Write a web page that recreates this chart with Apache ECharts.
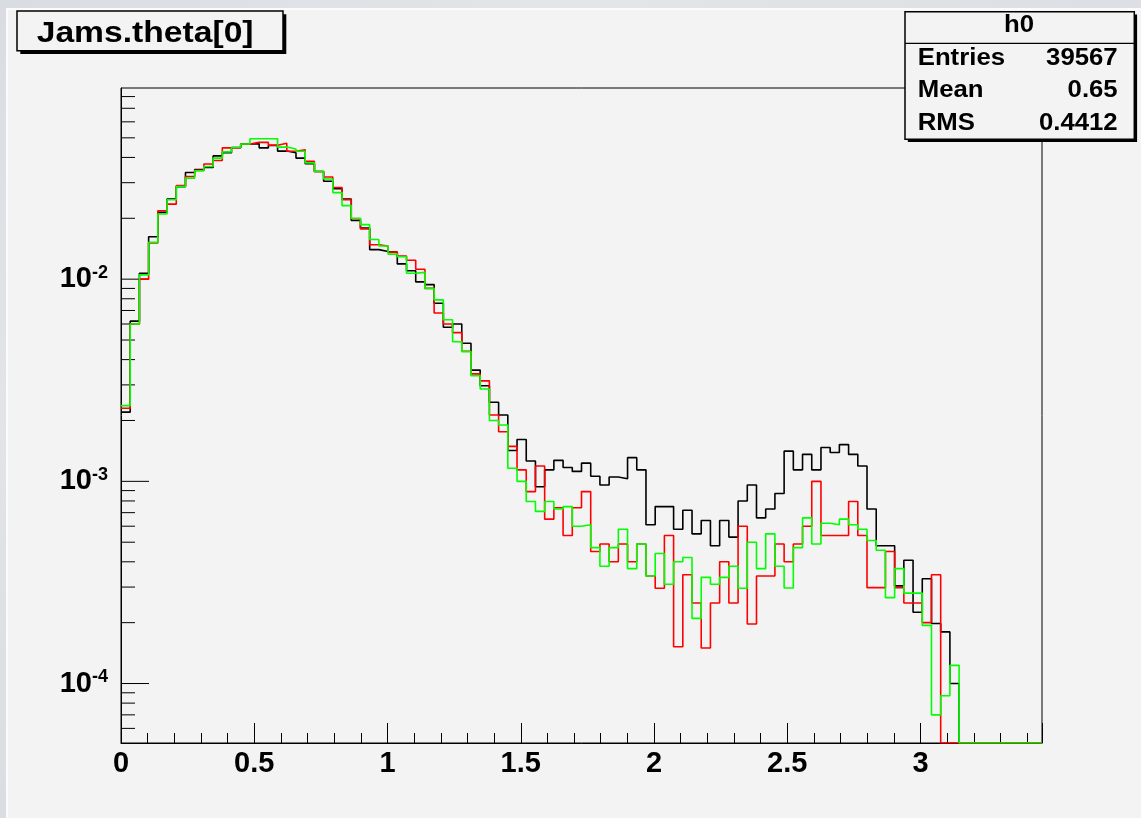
<!DOCTYPE html>
<html>
<head>
<meta charset="utf-8">
<title>Jams.theta[0]</title>
<script src="https://cdn.jsdelivr.net/npm/echarts@6/dist/echarts.min.js"></script>
<style>
  html, body { margin: 0; padding: 0; background: #f3f3f3; }
  #chart { width: 1141px; height: 818px; }
</style>
</head>
<body>
<div id="chart"></div>
<script>
// ---- Histogram description -------------------------------------------------
const TITLE = 'Jams.theta[0]';
const HIST_NAME = 'h0';
const STAT_LABELS = ['Entries', 'Mean', 'RMS'];
const STAT_VALUES = ['39567', '0.65', '0.4412'];

const N_BINS = 100;
const X_MIN = 0;
const X_MAX = 1.1 * Math.PI;
const Y_MIN = 5.08e-5;
const Y_MAX = 0.0882;

const X_TICK_LABELS = ['0', '0.5', '1', '1.5', '2', '2.5', '3'];
const Y_DECADES = [-4, -3, -2];

// Normalised bin contents (100 bins over [0, 1.1*pi]); 0 = empty bin.
const blackHist = [
  2.2e-3, 6.2e-3, 1.07e-2, 1.62e-2, 2.14e-2, 2.49e-2, 2.87e-2, 3.37e-2, 3.48e-2, 3.57e-2,
  4.07e-2, 4.22e-2, 4.48e-2, 4.66e-2, 4.68e-2, 4.46e-2, 4.58e-2, 4.30e-2, 4.22e-2, 3.97e-2,
  3.72e-2, 3.41e-2, 3.05e-2, 2.80e-2, 2.49e-2, 1.95e-2, 1.79e-2, 1.40e-2, 1.37e-2, 1.36e-2,
  1.19e-2, 1.10e-2, 9.7e-3, 9.4e-3, 7.6e-3, 5.78e-3, 6.0e-3, 4.82e-3, 3.55e-3, 2.97e-3,
  2.46e-3, 2.13e-3, 1.42e-3, 1.61e-3, 1.26e-3, 9.4e-4, 1.14e-3, 1.27e-3, 1.17e-3, 1.12e-3,
  1.23e-3, 1.06e-3, 9.6e-4, 1.05e-3, 1.03e-3, 1.31e-3, 1.14e-3, 6.1e-4, 7.5e-4, 7.5e-4,
  5.8e-4, 7.2e-4, 5.5e-4, 6.4e-4, 4.8e-4, 6.4e-4, 5.3e-4, 8.0e-4, 9.6e-4, 6.6e-4,
  7.3e-4, 8.7e-4, 1.41e-3, 1.14e-3, 1.36e-3, 1.14e-3, 1.47e-3, 1.39e-3, 1.52e-3, 1.36e-3,
  1.19e-3, 7.3e-4, 4.8e-4, 4.8e-4, 3.04e-4, 4.07e-4, 2.25e-4, 3.3e-4, 1.98e-4, 1.8e-4,
  1.0e-4, 0, 0, 0, 0, 0, 0, 0, 0, 0
];

const redHist = [
  2.3e-3, 6.0e-3, 1.0e-2, 1.51e-2, 2.18e-2, 2.35e-2, 2.90e-2, 3.22e-2, 3.45e-2, 3.71e-2,
  3.86e-2, 4.46e-2, 4.46e-2, 4.66e-2, 4.75e-2, 4.75e-2, 4.6e-2, 4.7e-2, 4.29e-2, 4.37e-2,
  3.83e-2, 3.41e-2, 3.20e-2, 2.84e-2, 2.47e-2, 1.99e-2, 1.77e-2, 1.48e-2, 1.46e-2, 1.36e-2,
  1.30e-2, 1.24e-2, 1.12e-2, 9.0e-3, 6.8e-3, 6.0e-3, 5.44e-3, 4.4e-3, 3.4e-3, 3.14e-3,
  2.13e-3, 1.76e-3, 1.49e-3, 1.14e-3, 8.9e-4, 1.19e-3, 6.5e-4, 7.4e-4, 5.4e-4, 7.4e-4,
  8.9e-4, 4.5e-4, 4.9e-4, 4.0e-4, 4.9e-4, 4.0e-4, 4.9e-4, 3.4e-4, 2.96e-4, 5.4e-4,
  1.52e-4, 3.45e-4, 2.5e-4, 1.5e-4, 2.5e-4, 4.0e-4, 2.5e-4, 6.0e-4, 1.97e-4, 3.4e-4,
  3.4e-4, 4.9e-4, 4.0e-4, 4.9e-4, 6.0e-4, 1.0e-3, 5.4e-4, 5.4e-4, 5.4e-4, 7.95e-4,
  5.4e-4, 2.98e-4, 2.98e-4, 4.5e-4, 2.98e-4, 2.5e-4, 2.5e-4, 2.0e-4, 3.45e-4, 0,
  0, 0, 0, 0, 0, 0, 0, 0, 0, 0
];

const greenHist = [
  2.37e-3, 6.0e-3, 1.05e-2, 1.52e-2, 2.10e-2, 2.47e-2, 2.87e-2, 3.16e-2, 3.44e-2, 3.61e-2,
  3.97e-2, 4.26e-2, 4.48e-2, 4.66e-2, 4.95e-2, 4.95e-2, 4.95e-2, 4.5e-2, 4.4e-2, 4.29e-2,
  3.76e-2, 3.41e-2, 3.13e-2, 2.68e-2, 2.31e-2, 2.00e-2, 1.86e-2, 1.57e-2, 1.46e-2, 1.33e-2,
  1.29e-2, 1.07e-2, 1.08e-2, 9.0e-3, 7.9e-3, 6.3e-3, 4.9e-3, 4.38e-3, 3.33e-3, 2.86e-3,
  2.0e-3, 1.9e-3, 1.16e-3, 1.0e-3, 7.95e-4, 7.1e-4, 7.95e-4, 7.3e-4, 7.5e-4, 6.0e-4,
  6.1e-4, 4.7e-4, 3.8e-4, 4.7e-4, 5.8e-4, 3.7e-4, 4.9e-4, 3.4e-4, 4.4e-4, 3.1e-4,
  4.0e-4, 4.2e-4, 2.1e-4, 3.35e-4, 3.1e-4, 3.35e-4, 3.8e-4, 2.96e-4, 5.0e-4, 3.7e-4,
  5.5e-4, 3.8e-4, 2.97e-4, 4.7e-4, 6.6e-4, 4.9e-4, 6.2e-4, 6.1e-4, 6.5e-4, 6.1e-4,
  5.8e-4, 5.1e-4, 4.56e-4, 2.66e-4, 3.7e-4, 2.8e-4, 2.8e-4, 1.94e-4, 7.0e-5, 8.7e-5,
  1.23e-4, 0, 0, 0, 0, 0, 0, 0, 0, 0
];

// ---- Helpers ----------------------------------------------------------------
const FONT = '"Liberation Sans", Arial, Helvetica, sans-serif';
const BG = '#f3f3f3';
const binWidth = (X_MAX - X_MIN) / N_BINS;

// One point per bin low edge plus the closing edge; empty bins sit on the
// bottom of the log frame, the way the histogram painter shows them.
function stepData(values) {
  const pts = values.map((v, i) => [X_MIN + i * binWidth, v > 0 ? v : Y_MIN]);
  pts.push([X_MAX, pts[pts.length - 1][1]]);
  return pts;
}

function histSeries(name, values, color) {
  return {
    name: name,
    type: 'line',
    step: 'end',
    data: stepData(values),
    symbol: 'none',
    silent: true,
    xAxisIndex: 0,
    yAxisIndex: 0,
    lineStyle: { color: color, width: 1.6 },
    z: 5
  };
}

// Log-axis tick marks: 1..9 x 10^k inside the y range (major at 10^k).
const yTickMarks = [];
for (let e = -5; e <= -1; e++) {
  for (let m = 1; m <= 9; m++) {
    const v = m * Math.pow(10, e);
    if (v > Y_MIN && v < Y_MAX) yTickMarks.push([X_MIN, v, m === 1 ? 1 : 0]);
  }
}

function xLabel(v) {
  const s = X_TICK_LABELS.find(t => Math.abs(parseFloat(t) - v) < 1e-6);
  return s === undefined ? '' : s;
}

function yLabel(v) {
  const e = Math.log10(v);
  const d = Y_DECADES.find(k => Math.abs(k - e) < 1e-6);
  return d === undefined ? '' : '{b|10}{s|' + d + '}';
}

// ---- Chart ------------------------------------------------------------------
const chart = echarts.init(document.getElementById('chart'), null, { renderer: 'canvas' });

const statRows = [];
STAT_LABELS.forEach((lab, i) => {
  const cy = 58.3 + i * 32.6;
  statRows.push({
    type: 'text', x: 917.7, y: cy, scaleX: 1.12, z: 102,
    style: { text: lab, font: 'bold 23px ' + FONT, fill: '#000', align: 'left', verticalAlign: 'middle' }
  });
  statRows.push({
    type: 'text', x: 1117.7, y: cy, scaleX: 1.12, z: 102,
    style: { text: STAT_VALUES[i], font: 'bold 23px ' + FONT, fill: '#000', align: 'right', verticalAlign: 'middle' }
  });
});

const option = {
  backgroundColor: BG,
  animation: false,
  grid: {
    left: 121, top: 88, width: 921, height: 655,
    show: true, borderColor: '#000', borderWidth: 1, backgroundColor: 'transparent'
  },
  xAxis: [
    {
      type: 'value', min: X_MIN, max: X_MAX, interval: 0.5, position: 'bottom',
      axisLine: { show: true, onZero: false, lineStyle: { color: '#000', width: 1 } },
      axisTick: { show: true, inside: true, length: 20, lineStyle: { color: '#000', width: 1 } },
      axisLabel: {
        show: true, margin: 6, color: '#000', fontSize: 29, fontWeight: 'bold', fontFamily: FONT,
        formatter: xLabel, showMinLabel: true, showMaxLabel: true
      },
      splitLine: { show: false }
    },
    {
      type: 'value', min: X_MIN, max: X_MAX, interval: 0.1, position: 'bottom',
      axisLine: { show: false },
      axisTick: { show: true, inside: true, length: 10, lineStyle: { color: '#000', width: 1 } },
      axisLabel: { show: false },
      splitLine: { show: false }
    }
  ],
  yAxis: {
    type: 'log', logBase: 10, min: Y_MIN, max: Y_MAX,
    axisLine: { show: true, onZero: false, lineStyle: { color: '#000', width: 1 } },
    axisTick: { show: false },
    splitLine: { show: false },
    axisLabel: {
      margin: 13, color: '#000', formatter: yLabel,
      rich: {
        b: { fontSize: 29, fontWeight: 'bold', fontFamily: FONT, color: '#000', lineHeight: 30 },
        s: { fontSize: 18, fontWeight: 'bold', fontFamily: FONT, color: '#000', lineHeight: 18, verticalAlign: 'top' }
      }
    }
  },
  series: [
    {
      type: 'custom',
      coordinateSystem: 'cartesian2d',
      xAxisIndex: 0, yAxisIndex: 0,
      silent: true,
      data: yTickMarks,
      renderItem: function (params, api) {
        const p = api.coord([api.value(0), api.value(1)]);
        const len = api.value(2) ? 28 : 14;
        return {
          type: 'line',
          shape: { x1: p[0], y1: p[1], x2: p[0] + len, y2: p[1] },
          style: { stroke: '#000', lineWidth: 1 }
        };
      },
      z: 3
    },
    histSeries('black', blackHist, '#000000'),
    histSeries('red', redHist, '#ff0000'),
    histSeries('green', greenHist, '#00ff00')
  ],
  graphic: [
    // soft frame strips along the top and left borders
    { type: 'rect', shape: { x: 0, y: 0, width: 1141, height: 8 }, z: 90,
      style: { fill: new echarts.graphic.LinearGradient(0, 0, 1, 0, [
        { offset: 0, color: '#d9dde2' }, { offset: 0.5, color: '#e3e5e8' }, { offset: 1, color: '#dcdfe3' }]) } },
    { type: 'rect', shape: { x: 0, y: 0, width: 6, height: 818 }, z: 90,
      style: { fill: new echarts.graphic.LinearGradient(0, 0, 0, 1, [
        { offset: 0, color: '#d9dde2' }, { offset: 0.5, color: '#e2e4e7' }, { offset: 1, color: '#dadde1' }]) } },
    { type: 'line', shape: { x1: 6, y1: 9, x2: 1141, y2: 9 }, z: 91, style: { stroke: '#fbfbfb', lineWidth: 2 } },
    { type: 'line', shape: { x1: 7, y1: 9, x2: 7, y2: 818 }, z: 91, style: { stroke: '#fbfbfb', lineWidth: 2 } },

    // title pave with shadow
    { type: 'rect', shape: { x: 20.3, y: 14.3, width: 266, height: 39.7 }, z: 100, style: { fill: '#000' } },
    { type: 'rect', shape: { x: 17, y: 11, width: 266, height: 39.7 }, z: 101,
      style: { fill: BG, stroke: '#000', lineWidth: 1.5 } },
    { type: 'text', x: 36.7, y: 33.5, scaleX: 1.16, z: 102,
      style: { text: TITLE, font: 'bold 29px ' + FONT, fill: '#000', align: 'left', verticalAlign: 'middle' } },

    // statistics box with shadow
    { type: 'rect', shape: { x: 907.8, y: 14.5, width: 229.3, height: 127.6 }, z: 100, style: { fill: '#000' } },
    { type: 'rect', shape: { x: 905, y: 11.7, width: 229.3, height: 127.6 }, z: 101,
      style: { fill: BG, stroke: '#000', lineWidth: 1.5 } },
    { type: 'line', shape: { x1: 905, y1: 43.3, x2: 1134.3, y2: 43.3 }, z: 102, style: { stroke: '#000', lineWidth: 1.2 } },
    { type: 'text', x: 1019, y: 25.5, scaleX: 1.12, z: 102,
      style: { text: HIST_NAME, font: 'bold 23px ' + FONT, fill: '#000', align: 'center', verticalAlign: 'middle' } }
  ].concat(statRows)
};

chart.setOption(option);
</script>
</body>
</html>
